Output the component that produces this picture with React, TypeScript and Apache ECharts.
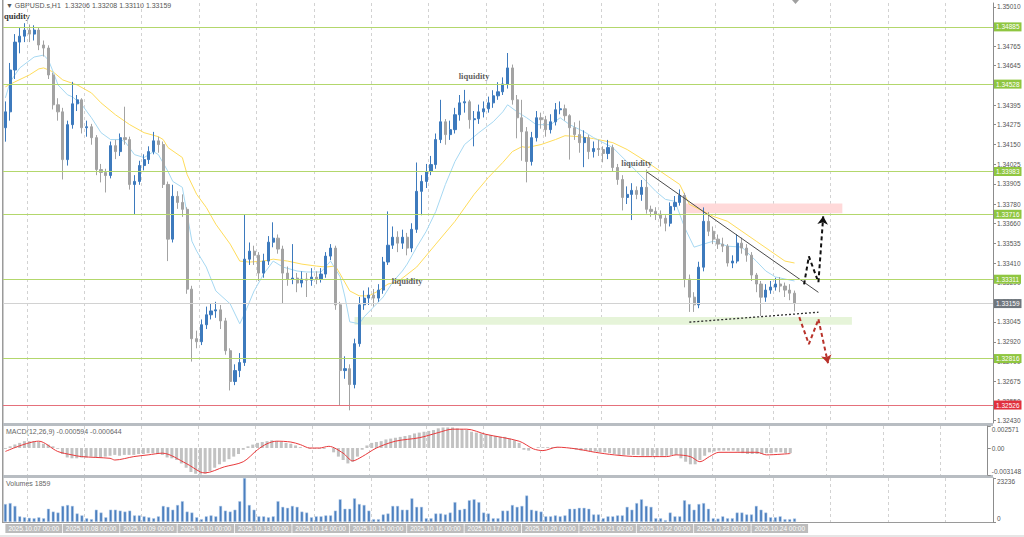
import React, { useEffect, useRef } from "react";
import * as echarts from "echarts";

// ---------- categories (2-hour bars) ----------
const tradingDays = [
  "2025.10.07", "2025.10.08", "2025.10.09", "2025.10.10", "2025.10.13", "2025.10.14", "2025.10.15",
  "2025.10.16", "2025.10.17", "2025.10.20", "2025.10.21", "2025.10.22", "2025.10.23", "2025.10.24",
  "2025.10.27", "2025.10.28", "2025.10.29", "2025.10.30",
];
const barHours = ["00:00", "02:00", "04:00", "06:00", "08:00", "10:00", "12:00", "14:00", "16:00", "18:00", "20:00", "22:00"];
const TOTAL_SLOTS = 207;

// ---------- price data ----------
const firstOpen = 1.34256;
const closes = [
  1.34355, 1.34616, 1.34790, 1.34827, 1.34865, 1.34840, 1.34865, 1.34772, 1.34753, 1.34585,
  1.34399, 1.34355, 1.34057, 1.34275, 1.34405, 1.34430, 1.34256, 1.34262, 1.34194, 1.33995,
  1.33977, 1.33958, 1.34144, 1.34107, 1.34194, 1.34182, 1.33902, 1.33921, 1.34020, 1.34057,
  1.34107, 1.34174, 1.34151, 1.33902, 1.33561, 1.33828, 1.33790, 1.33747, 1.33249, 1.32940,
  1.32921, 1.33027, 1.33089, 1.33113, 1.33120, 1.33051, 1.32865, 1.32673, 1.32741, 1.32791,
  1.33436, 1.33486, 1.33461, 1.33349, 1.33424, 1.33542, 1.33567, 1.33499, 1.33349, 1.33312,
  1.33318, 1.33287, 1.33312, 1.33305, 1.33324, 1.33312, 1.33343, 1.33455, 1.33505, 1.33151,
  1.32741, 1.32753, 1.32654, 1.32909, 1.33151, 1.33193, 1.33212, 1.33193, 1.33243, 1.33418,
  1.33523, 1.33573, 1.33536, 1.33573, 1.33505, 1.33622, 1.33859, 1.33921, 1.33983, 1.34026,
  1.34182, 1.34293, 1.34213, 1.34244, 1.34337, 1.34411, 1.34418, 1.34306, 1.34312, 1.34355,
  1.34374, 1.34411, 1.34455, 1.34480, 1.34529, 1.34629, 1.34430, 1.34318, 1.34231, 1.34045,
  1.34194, 1.34318, 1.34306, 1.34244, 1.34293, 1.34368, 1.34374, 1.34331, 1.34256, 1.34213,
  1.34163, 1.34194, 1.34107, 1.34126, 1.34120, 1.34095, 1.34132, 1.34008, 1.33933, 1.33821,
  1.33840, 1.33865, 1.33840, 1.33884, 1.33747, 1.33734, 1.33716, 1.33691, 1.33660, 1.33765,
  1.33790, 1.33834, 1.33312, 1.33199, 1.33151, 1.33386, 1.33672, 1.33610, 1.33561, 1.33530,
  1.33517, 1.33412, 1.33424, 1.33536, 1.33505, 1.33461, 1.33337, 1.33281, 1.33199, 1.33243,
  1.33262, 1.33281, 1.33268, 1.33243, 1.33224, 1.33159,
];
const highs = [
  1.34420, 1.34660, 1.34840, 1.34880, 1.34908, 1.34900, 1.34895, 1.34880, 1.34800, 1.34770,
  1.34600, 1.34440, 1.34380, 1.34300, 1.34542, 1.34460, 1.34440, 1.34300, 1.34280, 1.34210,
  1.34030, 1.34000, 1.34170, 1.34180, 1.34220, 1.34387, 1.34200, 1.33960, 1.34050, 1.34090,
  1.34140, 1.34230, 1.34200, 1.34170, 1.33920, 1.33900, 1.33860, 1.33840, 1.33760, 1.33270,
  1.32990, 1.33060, 1.33140, 1.33160, 1.33170, 1.33150, 1.33070, 1.32880, 1.32780, 1.32850,
  1.33716, 1.33540, 1.33520, 1.33480, 1.33470, 1.33580, 1.33666, 1.33590, 1.33520, 1.33390,
  1.33530, 1.33350, 1.33360, 1.33350, 1.33380, 1.33360, 1.33380, 1.33480, 1.33530, 1.33520,
  1.33170, 1.32830, 1.32780, 1.32940, 1.33200, 1.33240, 1.33260, 1.33250, 1.33280, 1.33450,
  1.33734, 1.33640, 1.33610, 1.33620, 1.33600, 1.33660, 1.34039, 1.33960, 1.34030, 1.34080,
  1.34220, 1.34430, 1.34310, 1.34300, 1.34380, 1.34460, 1.34492, 1.34430, 1.34360, 1.34400,
  1.34420, 1.34450, 1.34490, 1.34540, 1.34570, 1.34722, 1.34650, 1.34460, 1.34430, 1.34260,
  1.34230, 1.34360, 1.34350, 1.34330, 1.34340, 1.34410, 1.34420, 1.34400, 1.34340, 1.34290,
  1.34300, 1.34240, 1.34210, 1.34170, 1.34180, 1.34140, 1.34180, 1.34150, 1.34030, 1.33960,
  1.33890, 1.33910, 1.33890, 1.33930, 1.33995, 1.33770, 1.33760, 1.33740, 1.33710, 1.33790,
  1.33830, 1.33871, 1.33850, 1.33340, 1.33230, 1.33420, 1.33759, 1.33730, 1.33640, 1.33590,
  1.33570, 1.33530, 1.33460, 1.33592, 1.33570, 1.33530, 1.33480, 1.33350, 1.33300, 1.33280,
  1.33300, 1.33320, 1.33324, 1.33290, 1.33280, 1.33240,
];
const lows = [
  1.34169, 1.34300, 1.34560, 1.34720, 1.34790, 1.34790, 1.34800, 1.34740, 1.34700, 1.34560,
  1.34370, 1.34300, 1.33933, 1.34020, 1.34250, 1.34360, 1.34220, 1.34200, 1.34150, 1.33960,
  1.33915, 1.33852, 1.33940, 1.34060, 1.34080, 1.34150, 1.33870, 1.33716, 1.33900, 1.33990,
  1.34030, 1.34090, 1.34100, 1.33880, 1.33424, 1.33540, 1.33750, 1.33700, 1.33220, 1.32797,
  1.32880, 1.32900, 1.33000, 1.33060, 1.33070, 1.33000, 1.32840, 1.32617, 1.32650, 1.32700,
  1.32770, 1.33400, 1.33400, 1.33300, 1.33320, 1.33400, 1.33510, 1.33470, 1.33160, 1.33270,
  1.33280, 1.33230, 1.33260, 1.33200, 1.33270, 1.33280, 1.33290, 1.33320, 1.33430, 1.33120,
  1.32524, 1.32690, 1.32493, 1.32630, 1.32890, 1.33120, 1.33150, 1.33140, 1.33170, 1.33220,
  1.33400, 1.33500, 1.33480, 1.33500, 1.33460, 1.33480, 1.33600, 1.33710, 1.33880, 1.33960,
  1.34000, 1.34160, 1.34150, 1.34180, 1.34220, 1.34300, 1.34350, 1.34250, 1.34140, 1.34280,
  1.34320, 1.34350, 1.34380, 1.34430, 1.34460, 1.34500, 1.34400, 1.34190, 1.34050, 1.33915,
  1.34020, 1.34170, 1.34250, 1.34200, 1.34220, 1.34270, 1.34340, 1.34300, 1.34057, 1.34180,
  1.34100, 1.34010, 1.34060, 1.34070, 1.34080, 1.34040, 1.34060, 1.33980, 1.33900, 1.33740,
  1.33780, 1.33680, 1.33810, 1.33800, 1.33720, 1.33700, 1.33680, 1.33640, 1.33610, 1.33640,
  1.33740, 1.33770, 1.33260, 1.33107, 1.33107, 1.33130, 1.33360, 1.33580, 1.33530, 1.33500,
  1.33480, 1.33390, 1.33380, 1.33410, 1.33470, 1.33420, 1.33300, 1.33230, 1.33082, 1.33170,
  1.33220, 1.33240, 1.33230, 1.33200, 1.33180, 1.33110,
];

// moving averages: [bar index, price]
const maFast: [number, number][] = [
  [0, 1.34442], [1, 1.34542], [3, 1.34629], [6, 1.34697], [8, 1.34709], [9, 1.34678], [10, 1.34604], [11, 1.34523],
  [13, 1.34461], [14, 1.34449], [16, 1.34399], [18, 1.34318], [20, 1.34225], [22, 1.34182], [24, 1.34182], [25, 1.34169],
  [27, 1.34088], [29, 1.3407], [31, 1.34107], [32, 1.34088], [34, 1.33983], [35, 1.33921], [37, 1.33884], [38, 1.33716],
  [39, 1.33548], [40, 1.33486], [42, 1.33387], [44, 1.33238], [47, 1.33157], [49, 1.33033], [50, 1.33095], [52, 1.33238],
  [54, 1.33343], [56, 1.33424], [58, 1.33387], [61, 1.33362], [63, 1.33356], [66, 1.33356], [68, 1.33424], [70, 1.33325],
  [71, 1.332], [72, 1.33045], [74, 1.33033], [75, 1.33076], [77, 1.33138], [79, 1.332], [81, 1.33294], [83, 1.33362],
  [84, 1.33405], [86, 1.33511], [88, 1.3361], [90, 1.33734], [92, 1.33902], [94, 1.34045], [96, 1.34151], [99, 1.34225],
  [102, 1.34293], [104, 1.34355], [105, 1.34399], [107, 1.34355], [109, 1.34318], [111, 1.34275], [114, 1.34275],
  [116, 1.34318], [118, 1.34275], [121, 1.34231], [123, 1.34194], [127, 1.34132], [132, 1.33983], [136, 1.33859],
  [138, 1.33809], [140, 1.33797], [142, 1.33635], [144, 1.33511], [146, 1.3353], [148, 1.33548], [151, 1.33517],
  [154, 1.33511], [157, 1.33424], [159, 1.33362], [161, 1.33325], [163, 1.33312], [165, 1.333],
];
const maSlow: [number, number][] = [
  [0, 1.34511], [2, 1.34542], [5, 1.34585], [7, 1.34623], [8, 1.34629], [10, 1.34604], [12, 1.34554], [15, 1.34523],
  [18, 1.34473], [20, 1.34411], [23, 1.34337], [26, 1.34275], [29, 1.34225], [32, 1.342], [33, 1.34182], [34, 1.34132],
  [37, 1.3407], [38, 1.33964], [40, 1.3384], [42, 1.33759], [44, 1.33654], [47, 1.3353], [49, 1.33424], [51, 1.33418],
  [54, 1.33424], [56, 1.33436], [59, 1.33424], [62, 1.33405], [65, 1.33393], [67, 1.33387], [69, 1.33393], [70, 1.33343],
  [72, 1.33238], [74, 1.33207], [76, 1.33207], [78, 1.33238], [80, 1.33281], [82, 1.33294], [86, 1.33387], [90, 1.3353],
  [94, 1.33672], [98, 1.3384], [101, 1.33946], [104, 1.34039], [106, 1.34107], [108, 1.34138], [109, 1.34132],
  [112, 1.34151], [115, 1.34182], [117, 1.34206], [120, 1.342], [123, 1.34188], [127, 1.34163], [130, 1.3412],
  [134, 1.34045], [137, 1.33983], [141, 1.33902], [143, 1.33778], [146, 1.33734], [148, 1.33703], [151, 1.33672],
  [154, 1.3361], [157, 1.33548], [160, 1.33486], [163, 1.33424], [165, 1.33412],
];

// ---------- MACD & volume ----------
const macdHist = [
  -0.0001, 0.0002, 0.0004, 0.0006, 0.0008, 0.0008, 0.0008, 0.0007, 0.0005, 0.0004,
  0.0002, -0.0001, -0.0007, -0.0011, -0.0012, -0.0012, -0.0011, -0.0011, -0.0010, -0.0011,
  -0.0011, -0.0010, -0.0009, -0.0008, -0.0009, -0.0008, -0.0008, -0.0008, -0.0007, -0.0007,
  -0.0006, -0.0006, -0.0007, -0.0008, -0.0011, -0.0012, -0.0014, -0.0018, -0.0023, -0.0028,
  -0.0030, -0.0031, -0.0030, -0.0027, -0.0023, -0.0019, -0.0016, -0.0013, -0.0010, -0.0007,
  -0.0002, 0.0002, 0.0004, 0.0006, 0.0007, 0.0008, 0.0009, 0.0008, 0.0007, 0.0006,
  0.0005, 0.0003, 0.0001, 0.0000, -0.0001, -0.0001, -0.0001, -0.0001, 0.0000, -0.0005,
  -0.0010, -0.0014, -0.0018, -0.0016, -0.0010, -0.0002, 0.0003, 0.0006, 0.0007, 0.0008,
  0.0010, 0.0011, 0.0012, 0.0013, 0.0014, 0.0015, 0.0017, 0.0018, 0.0019, 0.0020,
  0.0021, 0.0023, 0.0024, 0.0024, 0.0024, 0.0023, 0.0022, 0.0021, 0.0019, 0.0018,
  0.0017, 0.0016, 0.0015, 0.0014, 0.0013, 0.0013, 0.0011, 0.0009, 0.0006, -0.0002,
  -0.0003, 0.0000, 0.0001, 0.0001, 0.0001, 0.0001, 0.0001, 0.0000, 0.0000, -0.0001,
  -0.0002, -0.0003, -0.0003, -0.0004, -0.0004, -0.0005, -0.0005, -0.0006, -0.0007, -0.0008,
  -0.0008, -0.0008, -0.0008, -0.0008, -0.0009, -0.0009, -0.0009, -0.0009, -0.0009, -0.0009,
  -0.0008, -0.0008, -0.0012, -0.0016, -0.0019, -0.0019, -0.0014, -0.0009, -0.0005, -0.0004,
  -0.0003, -0.0003, -0.0003, -0.0003, -0.0004, -0.0006, -0.0007, -0.0007, -0.0007, -0.0007,
  -0.0006, -0.0006, -0.0005, -0.0005, -0.0006, -0.000594,
];
const macdSignal: [number, number][] = [
  [0, -0.0004], [7, 0.0008], [11, -0.0004], [14, -0.0008], [16, -0.001], [22, -0.0012], [23, -0.0014], [27, -0.001],
  [30, -0.0008], [33, -0.0006], [38, -0.0018], [41, -0.0028], [42, -0.0029], [46, -0.0022], [50, -0.0016], [53, -0.0002],
  [55, 0.0005], [57, 0.0008], [60, 0.0007], [62, 0.0004], [64, 0.0], [66, 0.0], [68, 0.0002], [71, -0.0006],
  [73, -0.0015], [75, -0.001], [78, 0.0], [82, 0.0008], [87, 0.0012], [91, 0.0018], [94, 0.0022], [97, 0.0022],
  [101, 0.0016], [108, 0.0008], [111, -0.0001], [113, -0.0003], [116, 0.0001], [120, -0.0001], [124, -0.0005],
  [128, -0.0008], [133, -0.001], [139, -0.001], [141, -0.0008], [144, -0.001], [146, -0.0016], [148, -0.001],
  [150, -0.0005], [158, -0.0005], [160, -0.0008], [165, -0.000644],
];
const volumes = [
  9500, 10000, 8500, 3000, 2500, 2200, 2000, 2500, 2000, 7000,
  5500, 5000, 8500, 9000, 8500, 4500, 3500, 2000, 1500, 6500,
  5000, 2500, 6500, 6500, 6000, 5500, 6000, 3500, 3500, 3000,
  2500, 2000, 3000, 8500, 8000, 6500, 9000, 11000, 5500, 5000,
  2500, 1500, 3000, 3500, 3000, 8500, 6000, 5500, 6500, 11000,
  23236, 9000, 6500, 3000, 3000, 2500, 3000, 11000, 8000, 7500,
  8500, 8000, 5500, 5000, 2500, 3000, 3000, 3500, 3500, 6000,
  12000, 7000, 7000, 12500, 9500, 9000, 6000, 1500, 1500, 4000,
  4500, 8500, 8500, 6500, 6500, 12500, 8000, 8000, 2000, 2000,
  4500, 4500, 4000, 5000, 10500, 6500, 7000, 11500, 12000, 10500,
  5000, 4500, 2000, 2000, 6000, 6000, 9000, 8000, 8500, 14000,
  6500, 6000, 5500, 3000, 3000, 3500, 3000, 3500, 7000, 7000,
  7500, 7500, 7000, 4000, 4000, 2000, 3000, 3000, 3500, 3500,
  8000, 6500, 10000, 12000, 8500, 8000, 2000, 2000, 1000, 5000,
  3000, 3000, 11500, 9500, 6500, 9500, 10000, 7000, 2000, 1800,
  3000, 2000, 2000, 5000, 5000, 4000, 4000, 8500, 6500, 5000,
  2500, 2500, 3000, 1500, 1500, 1859,
];

// ---------- axis ticks & levels ----------
const priceTicks = [
  1.3501, 1.3489, 1.34765, 1.34645, 1.3452, 1.34395, 1.34275, 1.3415, 1.34025, 1.33905, 1.3378,
  1.3366, 1.33535, 1.3341, 1.3329, 1.3317, 1.33045, 1.3292, 1.32799, 1.32675, 1.3255, 1.3243,
];
const priceMin = 1.32414;
const priceMax = 1.35034;
const macdMin = -0.003148;
const macdMax = 0.002571;
const volumeMax = 23236;
const greenLevels = [1.34885, 1.34528, 1.33983, 1.33716, 1.33311, 1.32816];
const redLevel = 1.32526;
const lastPrice = 1.33159;

// ---------- drawn annotations ----------
const supplyZone: [number, number][] = [[142, 1.33784], [175, 1.33722]];
const demandZone: [number, number][] = [[73, 1.33076], [177, 1.33027]];
const downTrend: [number, number][] = [[134, 1.33983], [170, 1.33229]];
const upSupport: [number, number][] = [[143, 1.33043], [170, 1.33105]];
const bullPath: [number, number][] = [[167, 1.33279], [168, 1.33453], [170, 1.33292], [171, 1.33703]];
const bearPath: [number, number][] = [[166, 1.33074], [168, 1.32906], [170, 1.33061], [172, 1.32787]];
const liquidityNotes: [number, number][] = [[98, 1.3458], [84, 1.33298], [132, 1.34038]];

const FONT = "'Liberation Sans', Arial, sans-serif";
const SERIF = "'Liberation Serif', 'DejaVu Serif', serif";

export default function App() {
  const ref = useRef<HTMLDivElement>(null);

  useEffect(() => {
    if (!ref.current) return;
    const chart = echarts.init(ref.current, null, { renderer: "svg" });

    const categories: string[] = [];
    tradingDays.forEach((d) => barHours.forEach((h) => categories.push(`${d} ${h}`)));
    const cats = categories.slice(0, TOTAL_SLOTS);
    const lastIdx = closes.length - 1;

    const candles = closes.map((c, i) => {
      const o = i === 0 ? firstOpen : closes[i - 1];
      return [o, c, Math.min(lows[i], o, c), Math.max(highs[i], o, c)];
    });

    const gridBase = { left: 3, right: 31 };
    const splitLine = {
      show: true,
      interval: (i: number) => (i - 5) % 12 === 0,
      lineStyle: { color: "#d2d2d2", type: [3, 3] as any, width: 1 },
    };
    const xAxisBase = (gi: number) => ({
      type: "category",
      gridIndex: gi,
      data: cats,
      boundaryGap: true,
      axisLine: { show: false },
      axisTick: { show: false },
      axisLabel: { show: false },
      splitLine,
    });
    const rightAxisCommon = {
      position: "right",
      axisLine: { show: true, lineStyle: { color: "#8c8c8c", width: 1 } },
      splitLine: { show: false },
    };
    const labelCommon = { fontSize: 6.5, color: "#555", margin: 4, fontFamily: FONT };

    const levelLabel = (bg: string) => ({
      show: true,
      position: "end",
      distance: 1,
      formatter: (p: any) => Number(p.value).toFixed(5),
      color: "#fff",
      backgroundColor: bg,
      padding: [1, 2, 1, 2],
      fontSize: 6.5,
      fontFamily: FONT,
    });

    const option: any = {
      animation: false,
      backgroundColor: "#ffffff",
      textStyle: { fontFamily: FONT },
      grid: [
        { ...gridBase, top: 3, height: 420 },
        { ...gridBase, top: 426, height: 49 },
        { ...gridBase, top: 478, height: 44 },
      ],
      xAxis: [
        xAxisBase(0),
        xAxisBase(1),
        {
          ...xAxisBase(2),
          axisLabel: {
            show: true,
            interval: (i: number) => i % 12 === 0 && i <= lastIdx,
            formatter: (v: string) => v,
            align: "left",
            margin: 2,
            fontSize: 6.5,
            color: "#ffffff",
            backgroundColor: "#bcbcbc",
            padding: [1, 3, 1, 3],
            fontFamily: FONT,
          },
        },
      ],
      yAxis: [
        {
          type: "value",
          gridIndex: 0,
          min: priceMin,
          max: priceMax,
          ...rightAxisCommon,
          axisTick: { show: true, length: 3, customValues: priceTicks, lineStyle: { color: "#8c8c8c" } },
          axisLabel: { ...labelCommon, customValues: priceTicks, formatter: (v: number) => v.toFixed(5) },
        },
        {
          type: "value",
          gridIndex: 1,
          min: macdMin,
          max: macdMax,
          ...rightAxisCommon,
          axisTick: { show: true, length: 3, customValues: [macdMin, 0, macdMax], lineStyle: { color: "#8c8c8c" } },
          axisLabel: {
            ...labelCommon,
            customValues: [macdMin, 0, macdMax],
            formatter: (v: number) => (v === 0 ? "0.00" : v.toFixed(6)),
            verticalAlignMinLabel: "bottom",
            verticalAlignMaxLabel: "top",
          },
        },
        {
          type: "value",
          gridIndex: 2,
          min: 0,
          max: volumeMax,
          ...rightAxisCommon,
          axisTick: { show: true, length: 3, customValues: [0, volumeMax], lineStyle: { color: "#8c8c8c" } },
          axisLabel: {
            ...labelCommon,
            customValues: [0, volumeMax],
            formatter: (v: number) => String(Math.round(v)),
            verticalAlignMinLabel: "bottom",
            verticalAlignMaxLabel: "top",
          },
        },
      ],
      series: [
        {
          name: "zonesSlowMA",
          type: "line",
          xAxisIndex: 0,
          yAxisIndex: 0,
          data: maSlow,
          symbol: "none",
          z: 1,
          lineStyle: { color: "#ffdc5a", width: 1 },
          markArea: {
            silent: true,
            data: [
              [
                { coord: supplyZone[0], itemStyle: { color: "#ffd9d9" } },
                { coord: supplyZone[1] },
              ],
              [
                { coord: demandZone[0], itemStyle: { color: "#e6f4d9" } },
                { coord: demandZone[1] },
              ],
            ],
          },
        },
        {
          name: "fastMA",
          type: "line",
          xAxisIndex: 0,
          yAxisIndex: 0,
          data: maFast,
          symbol: "none",
          z: 1,
          lineStyle: { color: "#a6d8f2", width: 1 },
        },
        {
          name: "GBPUSD",
          type: "candlestick",
          xAxisIndex: 0,
          yAxisIndex: 0,
          data: candles,
          barWidth: 2.6,
          z: 2,
          itemStyle: {
            color: "#3d7abd",
            color0: "#a3a3a3",
            borderColor: "#3d7abd",
            borderColor0: "#a3a3a3",
            borderWidth: 1,
          },
          markLine: {
            silent: true,
            precision: 5,
            symbol: ["none", "none"],
            data: [
              ...greenLevels.map((v) => ({
                yAxis: v,
                lineStyle: { color: "#b3d76c", width: 1, type: "solid" },
                label: levelLabel("#8fc640"),
              })),
              { yAxis: redLevel, lineStyle: { color: "#e5707b", width: 1, type: "solid" }, label: levelLabel("#e1303d") },
              { yAxis: lastPrice, lineStyle: { color: "#d2d2d2", width: 1, type: "solid" }, label: levelLabel("#6f767d") },
            ],
          },
        },
        {
          name: "downTrend",
          type: "line",
          data: downTrend,
          symbol: "none",
          z: 4,
          lineStyle: { color: "#4a4a4a", width: 1 },
        },
        {
          name: "upSupport",
          type: "line",
          data: upSupport,
          symbol: "none",
          z: 4,
          lineStyle: { color: "#2f2f2f", width: 1.3, type: [2, 2] },
        },
        {
          name: "bullPath",
          type: "line",
          data: bullPath.slice(0, 3),
          symbol: "none",
          z: 4,
          lineStyle: { color: "#111", width: 2, type: [4, 3] },
          markLine: {
            silent: true,
            precision: 5,
            symbol: ["none", "arrow"],
            symbolSize: 8,
            label: { show: false },
            lineStyle: { color: "#111", width: 2, type: [4, 3] },
            data: [[{ coord: bullPath[2] }, { coord: bullPath[3] }]],
          },
        },
        {
          name: "bearPath",
          type: "line",
          data: bearPath.slice(0, 3),
          symbol: "none",
          z: 4,
          lineStyle: { color: "#b8322a", width: 2, type: [4, 3] },
          markLine: {
            silent: true,
            precision: 5,
            symbol: ["none", "arrow"],
            symbolSize: 8,
            label: { show: false },
            lineStyle: { color: "#b8322a", width: 2, type: [4, 3] },
            data: [[{ coord: bearPath[2] }, { coord: bearPath[3] }]],
          },
        },
        {
          name: "notes",
          type: "scatter",
          data: liquidityNotes,
          symbolSize: 1,
          z: 6,
          itemStyle: { color: "rgba(0,0,0,0)" },
          label: {
            show: true,
            position: "inside",
            formatter: "liquidity",
            fontFamily: SERIF,
            fontSize: 8.5,
            fontWeight: "bold",
            color: "#333",
          },
        },
        {
          name: "MACD",
          type: "bar",
          xAxisIndex: 1,
          yAxisIndex: 1,
          data: macdHist,
          barWidth: 3,
          itemStyle: { color: "#c2c2c2" },
        },
        {
          name: "Signal",
          type: "line",
          xAxisIndex: 1,
          yAxisIndex: 1,
          data: macdSignal,
          symbol: "none",
          smooth: 0.3,
          lineStyle: { color: "#e8393b", width: 1 },
        },
        {
          name: "Volumes",
          type: "bar",
          xAxisIndex: 2,
          yAxisIndex: 2,
          data: volumes,
          barWidth: 3,
          itemStyle: { color: "#4b7fbf", borderColor: "#bcd3ec", borderWidth: 0.5 },
        },
      ],
      graphic: [
        { type: "rect", shape: { x: 2, y: 0, width: 1.5, height: 523 }, style: { fill: "#9a9a9a" }, silent: true },
        { type: "rect", shape: { x: 3, y: 423, width: 990, height: 3 }, style: { fill: "#b8bdc2" }, silent: true },
        { type: "rect", shape: { x: 3, y: 475, width: 990, height: 3 }, style: { fill: "#b8bdc2" }, silent: true },
        { type: "rect", shape: { x: 3, y: 522, width: 990, height: 1 }, style: { fill: "#9a9a9a" }, silent: true },
        { type: "rect", shape: { x: 0, y: 535, width: 1024, height: 2 }, style: { fill: "#e6e6e6" }, silent: true },
        { type: "polygon", shape: { points: [[792, 0], [799, 0], [795.5, 4]] }, style: { fill: "#a0a0a0" }, silent: true },
        {
          type: "text",
          left: 6,
          top: 2,
          style: { text: "▼ GBPUSD.s,H1  1.33206 1.33208 1.33110 1.33159", fontSize: 7, fill: "#555", fontFamily: FONT },
        },
        {
          type: "text",
          left: 4,
          top: 11,
          style: { text: "quidity", fontSize: 8.5, fontWeight: "bold", fill: "#333", fontFamily: SERIF },
        },
        {
          type: "text",
          left: 6,
          top: 428,
          style: { text: "MACD(12,26,9) -0.000594 -0.000644", fontSize: 7, fill: "#666", fontFamily: FONT },
        },
        {
          type: "text",
          left: 6,
          top: 480,
          style: { text: "Volumes 1859", fontSize: 7, fill: "#666", fontFamily: FONT },
        },
      ],
    };

    chart.setOption(option);
    return () => chart.dispose();
  }, []);

  return (
    <div
      ref={ref}
      style={{ position: "absolute", left: 0, top: 0, width: 1024, height: 537, background: "#fff" }}
    />
  );
}
